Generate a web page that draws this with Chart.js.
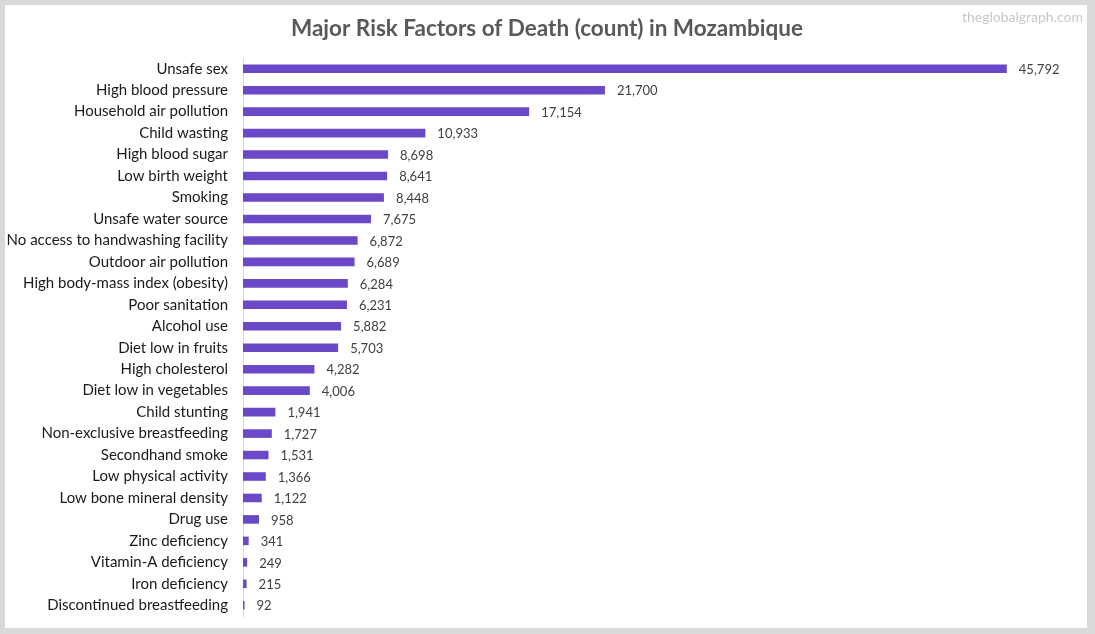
<!DOCTYPE html>
<html lang="en">
<head>
    <meta charset="UTF-8">
    <title>Major Risk Factors of Death (count) in Mozambique</title>
    <style>
        html, body {
            margin: 0;
            padding: 0;
            width: 1095px;
            height: 634px;
            overflow: hidden;
            background: #d9d9d9;
        }
        .frame {
            position: absolute;
            left: 5px;
            top: 5px;
            width: 1082px;
            height: 623px;
            background: white;
        }
    </style>
    <script src="https://cdn.jsdelivr.net/npm/chart.js@4.4.1/dist/chart.umd.min.js"></script>
</head>
<body>
    <div class="frame">
        <canvas id="myChart" width="1082" height="623"></canvas>
    </div>
    <script>
        const chartTitle = 'Major Risk Factors of Death (count) in Mozambique';
        const watermark = 'theglobalgraph.com';

        const riskFactors = [
            'Unsafe sex', 'High blood pressure', 'Household air pollution', 'Child wasting',
            'High blood sugar', 'Low birth weight', 'Smoking', 'Unsafe water source',
            'No access to handwashing facility', 'Outdoor air pollution',
            'High body-mass index (obesity)', 'Poor sanitation', 'Alcohol use',
            'Diet low in fruits', 'High cholesterol', 'Diet low in vegetables',
            'Child stunting', 'Non-exclusive breastfeeding', 'Secondhand smoke',
            'Low physical activity', 'Low bone mineral density', 'Drug use',
            'Zinc deficiency', 'Vitamin-A deficiency', 'Iron deficiency',
            'Discontinued breastfeeding'
        ];
        const deaths = [
            45792, 21700, 17154, 10933, 8698, 8641, 8448, 7675, 6872, 6689,
            6284, 6231, 5882, 5703, 4282, 4006, 1941, 1727, 1531, 1366,
            1122, 958, 341, 249, 215, 92
        ];

        // title (centred on the whole frame), value labels, site name
        const extras = {
            id: 'extras',
            afterDatasetsDraw(chart) {
                const ctx = chart.ctx;
                const meta = chart.getDatasetMeta(0);
                ctx.save();
                ctx.font = '13px Lato, sans-serif';
                ctx.fillStyle = '#404040';
                ctx.textAlign = 'left';
                ctx.textBaseline = 'middle';
                meta.data.forEach((bar, i) => {
                    ctx.fillText(deaths[i].toLocaleString('en-US'), bar.x + 12, bar.y + 1);
                });

                ctx.font = 'bold 22.5px Lato, sans-serif';
                ctx.fillStyle = '#595959';
                ctx.textAlign = 'center';
                ctx.fillText(chartTitle, chart.width / 2 + 1, 24);

                ctx.font = '14px Lato, sans-serif';
                ctx.fillStyle = '#c8c8c8';
                ctx.textAlign = 'right';
                ctx.fillText(watermark, 1078, 12);
                ctx.restore();
            }
        };

        const ctx = document.getElementById('myChart').getContext('2d');
        new Chart(ctx, {
            type: 'bar',
            data: {
                labels: riskFactors,
                datasets: [{
                    data: deaths,
                    backgroundColor: '#6a48c8',
                    categoryPercentage: 1,
                    barPercentage: 0.4
                }]
            },
            options: {
                indexAxis: 'y',
                responsive: false,
                animation: false,
                layout: {
                    padding: { left: 0, right: 10, top: 53, bottom: 12 }
                },
                scales: {
                    x: {
                        display: false,
                        min: 0,
                        max: 50000
                    },
                    y: {
                        grid: { display: false, drawTicks: false },
                        border: { display: true, color: '#d9d9d9', width: 1 },
                        ticks: {
                            padding: 15,
                            autoSkip: false,
                            color: '#1a1a1a',
                            font: { family: 'Lato, sans-serif', size: 15 }
                        },
                        afterFit(scale) {
                            scale.width = 238;
                            // tick padding would otherwise shrink the plot vertically
                            scale.paddingTop = 0;
                            scale.paddingBottom = 0;
                        }
                    }
                },
                plugins: {
                    legend: { display: false },
                    tooltip: { enabled: false },
                    title: { display: false }
                }
            },
            plugins: [extras]
        });
    </script>
</body>
</html>
